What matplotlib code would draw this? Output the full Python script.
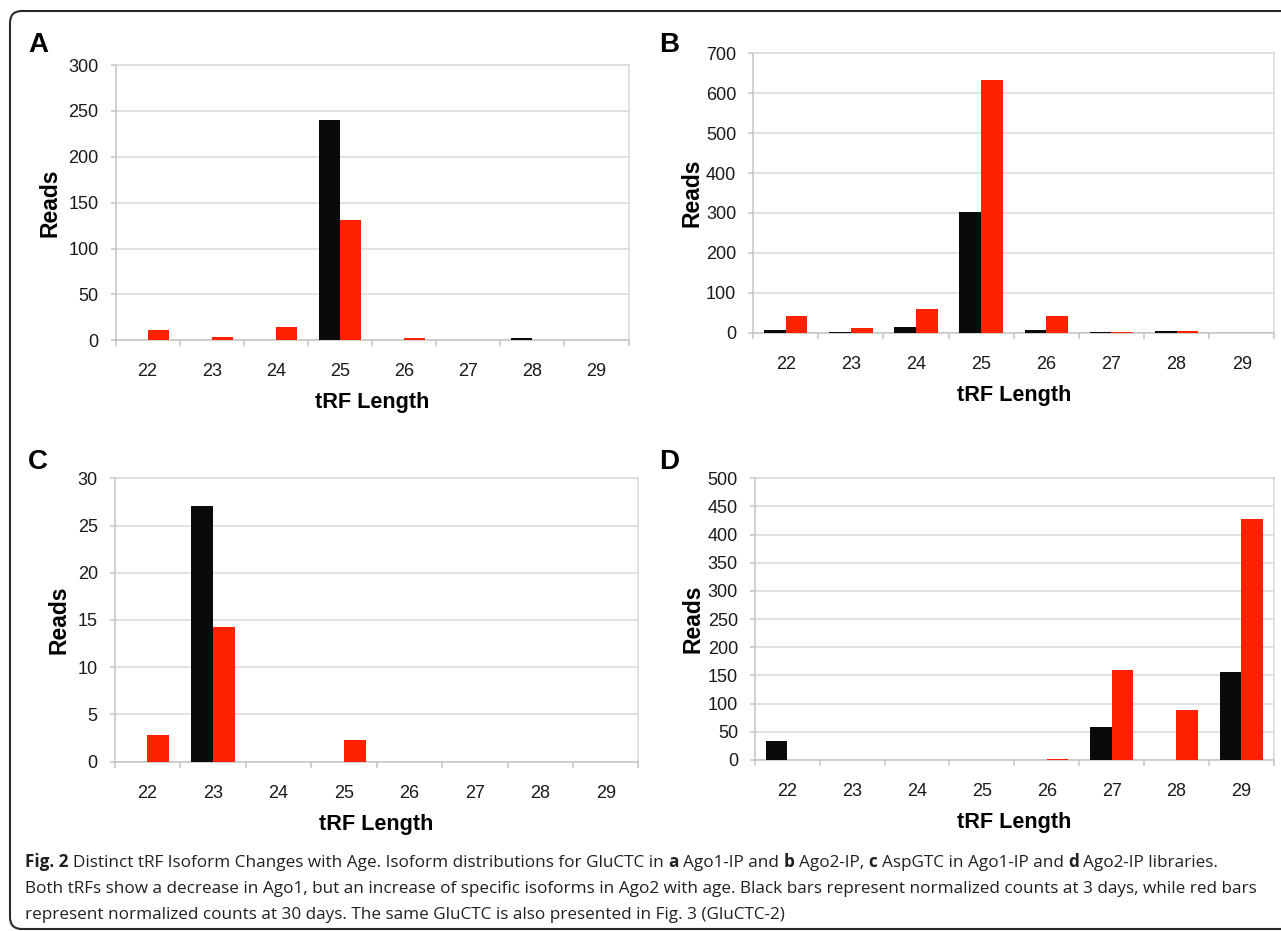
#!/usr/bin/env python3
"""
Distinct tRF isoform changes with age: four grouped bar panels (A-D)
with the figure caption underneath.
"""

import matplotlib
matplotlib.use("Agg")
import matplotlib.pyplot as plt
import matplotlib.transforms as mtransforms
from matplotlib.patches import FancyBboxPatch
import numpy as np

LENGTHS = ["22", "23", "24", "25", "26", "27", "28", "29"]

#   Panel A: GluCTC in Ago1-IP
A_DAY3 = [0, 0, 0, 240, 0, 0, 2, 0]
A_DAY30 = [11, 4, 15, 131, 3, 0, 0, 0]

#   Panel B: GluCTC in Ago2-IP
B_DAY3 = [6, 2, 14, 303, 6, 3, 4, 0]
B_DAY30 = [41, 12, 60, 633, 43, 3, 4, 0]

#   Panel C: AspGTC in Ago1-IP
C_DAY3 = [0, 27.1, 0, 0, 0, 0, 0, 0]
C_DAY30 = [2.8, 14.3, 0, 2.3, 0, 0, 0, 0]

#   Panel D: AspGTC in Ago2-IP
D_DAY3 = [34, 0, 0, 0, 0, 58.5, 0, 156]
D_DAY30 = [0.5, 0.5, 0, 0, 2, 160, 89, 428]

CAPTION = [
    [("Fig. 2", True), ("Distinct tRF Isoform Changes with Age. Isoform "
     "distributions for GluCTC in", False), ("a", True),
     ("Ago1-IP and", False), ("b", True), ("Ago2-IP,", False), ("c", True),
     ("AspGTC in Ago1-IP and", False), ("d", True),
     ("Ago2-IP libraries.", False)],
    [("Both tRFs show a decrease in Ago1, but an increase of specific "
      "isoforms in Ago2 with age. Black bars represent normalized counts at "
      "3 days, while red bars", False)],
    [("represent normalized counts at 30 days. The same GluCTC is also "
      "presented in Fig. 3 (GluCTC-2)", False)],
]

W, H = 1281, 931
BLACK = "#0a0a0a"
RED = "#ff2200"
GRID = "#d9d9d9"
AXIS = "#c4c4c4"
SANS = "Liberation Sans"


def px_axes(fig, left, right, top, bottom):
    """Add axes from pixel edges (top-left origin)."""
    return fig.add_axes([left / W, 1 - bottom / H,
                         (right - left) / W, (bottom - top) / H])


def draw_panel(fig, ax, day3, day30, ymax, ystep, ylab_off):
    x = np.arange(len(LENGTHS))
    ax.bar(x - 1 / 6, day3, width=1 / 3, color=BLACK, zorder=3)
    ax.bar(x + 1 / 6, day30, width=1 / 3, color=RED, zorder=3)

    ax.set_xlim(-0.5, len(LENGTHS) - 0.5)
    ax.set_ylim(0, ymax)
    ax.set_yticks(np.arange(0, ymax + ystep / 2, ystep))
    ax.set_xticks(x)
    ax.set_xticklabels(LENGTHS)
    ax.set_xticks(np.arange(-0.5, len(LENGTHS)), minor=True)

    ax.tick_params(axis="x", which="major", length=0, pad=16.5,
                   labelsize=13, labelcolor="#1a1a1a")
    ax.tick_params(axis="x", which="minor", length=4.3, width=1.1,
                   color=AXIS)
    ax.tick_params(axis="y", length=3.6, width=1.1, color=AXIS, pad=8.6,
                   labelsize=13, labelcolor="#1a1a1a")
    for lab in ax.get_xticklabels() + ax.get_yticklabels():
        lab.set_fontfamily(SANS)

    ax.yaxis.grid(True, color=GRID, linewidth=1.1)
    ax.set_axisbelow(True)
    for side, spine in ax.spines.items():
        spine.set_color(GRID if side in ("top", "right") else AXIS)
        spine.set_linewidth(1.1)

    #   Axis titles placed by pixel offsets from the plot edges.
    ylab_tr = ax.transAxes + mtransforms.ScaledTranslation(
        -ylab_off / 100, 0, fig.dpi_scale_trans)
    ax.text(0, 0.5, "Reads", transform=ylab_tr, rotation=90, ha="center",
            va="center", fontsize=16.5, fontweight="bold", family=SANS)
    xlab_tr = ax.transAxes + mtransforms.ScaledTranslation(
        0, -68 / 100, fig.dpi_scale_trans)
    ax.text(0.5, 0, "tRF Length", transform=xlab_tr, ha="center",
            va="baseline", fontsize=15.6, fontweight="bold", family=SANS)


def draw_caption(fig, x0, baselines, size):
    renderer = fig.canvas.get_renderer()
    probe = fig.text(0, 0, "a a", fontsize=size, family="Open Sans")
    probe2 = fig.text(0, 0, "aa", fontsize=size, family="Open Sans")
    space = (probe.get_window_extent(renderer).width
             - probe2.get_window_extent(renderer).width)
    probe.remove()
    probe2.remove()
    for runs, base in zip(CAPTION, baselines):
        x = x0
        for text, bold in runs:
            t = fig.text(x / W, 1 - base / H, text, fontsize=size,
                         fontweight="bold" if bold else "normal",
                         family="Open Sans", color="#231f20",
                         ha="left", va="baseline")
            x += t.get_window_extent(renderer).width + space


def main():
    fig = plt.figure(figsize=(W / 100, H / 100), dpi=100)

    #   Rounded frame, open on the right side of the image.
    frame = FancyBboxPatch((10, 2), 1330, 918,
                           boxstyle="round,pad=0,rounding_size=12",
                           transform=mtransforms.IdentityTransform(),
                           facecolor="none", edgecolor="#2b2b2b",
                           linewidth=1.5)
    fig.add_artist(frame)

    ax_a = px_axes(fig, 115.5, 628.6, 65, 340.3)
    ax_b = px_axes(fig, 753.2, 1274.3, 53.3, 332.7)
    ax_c = px_axes(fig, 114.7, 638.5, 478.3, 761.7)
    ax_d = px_axes(fig, 754.9, 1273.7, 478.3, 760)

    draw_panel(fig, ax_a, A_DAY3, A_DAY30, 300, 50, 66)
    draw_panel(fig, ax_b, B_DAY3, B_DAY30, 700, 100, 61)
    draw_panel(fig, ax_c, C_DAY3, C_DAY30, 30, 5, 56)
    draw_panel(fig, ax_d, D_DAY3, D_DAY30, 500, 50, 62)

    for letter, lx, ly in [("A", 28, 52), ("B", 659, 52),
                           ("C", 28, 469), ("D", 659, 469)]:
        fig.text(lx / W, 1 - ly / H, letter, fontsize=20,
                 fontweight="bold", family=SANS, ha="left", va="baseline")

    draw_caption(fig, 25, [867, 893, 919], 12.3)

    fig.savefig("out.png", dpi=100)


if __name__ == "__main__":
    main()
